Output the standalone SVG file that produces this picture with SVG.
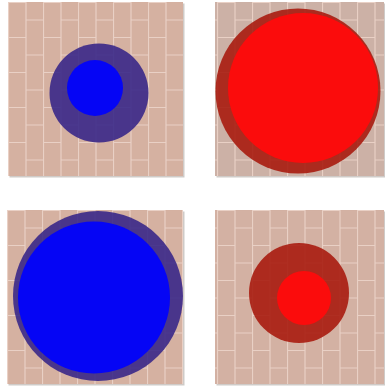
<svg xmlns="http://www.w3.org/2000/svg" width="385" height="389" viewBox="0 0 385 389">
<style>
.shadow{fill:#cfcbc8}
.ol{stroke:#e9d0c5;stroke-width:1.2;fill:none}
.pur{fill:#3a2888;fill-opacity:0.9}
.blu{fill:#0505f5}
.drd{fill:#a81c10;fill-opacity:0.9}
.red{fill:#fb0c0c}
</style>
<defs>
<pattern id="b1" patternUnits="userSpaceOnUse" x="8" y="2" width="35" height="35">
<rect width="35" height="35" fill="#d5b1a1"/>
<path class="ol" d="M0.5,0V35M18,0V35M0,0.5H18M18,18H35"/>
</pattern>
<pattern id="b2" patternUnits="userSpaceOnUse" x="217" y="2" width="35" height="35">
<rect width="35" height="35" fill="#ccb1a6"/>
<path class="ol" d="M0.5,0V35M18,0V35M0,0.5H18M18,18H35"/>
</pattern>
<pattern id="b3" patternUnits="userSpaceOnUse" x="7" y="210" width="35" height="35">
<rect width="35" height="35" fill="#d5b1a1"/>
<path class="ol" d="M0.5,0V35M18,0V35M0,0.5H18M18,18H35"/>
</pattern>
<pattern id="b4" patternUnits="userSpaceOnUse" x="217" y="210" width="35" height="35">
<rect width="35" height="35" fill="#d3b1a3"/>
<path class="ol" d="M0.5,0V35M18,0V35M0,0.5H18M18,18H35"/>
</pattern>
</defs>
<rect width="385" height="389" fill="#ffffff"/>
<g id="tile1">
<rect class="shadow" x="9.5" y="3.5" width="175" height="174"/>
<rect x="8" y="2" width="175" height="174" fill="url(#b1)"/>
<circle class="pur" cx="99" cy="93" r="49.5"/>
<circle class="blu" cx="95" cy="88" r="28"/>
</g>
<g id="tile2">
<rect class="shadow" x="216.5" y="3.5" width="169" height="174"/>
<rect x="215" y="2" width="169" height="174" fill="url(#b2)"/>
<circle class="drd" cx="298" cy="91" r="82.5"/>
<circle class="red" cx="303" cy="88" r="75"/>
</g>
<g id="tile3">
<rect class="shadow" x="8.5" y="211.5" width="176" height="174"/>
<rect x="7" y="210" width="176" height="174" fill="url(#b3)"/>
<circle class="pur" cx="98" cy="296" r="85"/>
<circle class="blu" cx="94" cy="297.5" r="76"/>
</g>
<g id="tile4">
<rect class="shadow" x="216.5" y="211.5" width="169" height="174"/>
<rect x="215" y="210" width="169" height="174" fill="url(#b4)"/>
<circle class="drd" cx="299" cy="293" r="50"/>
<circle class="red" cx="304" cy="298" r="27"/>
</g>
</svg>
